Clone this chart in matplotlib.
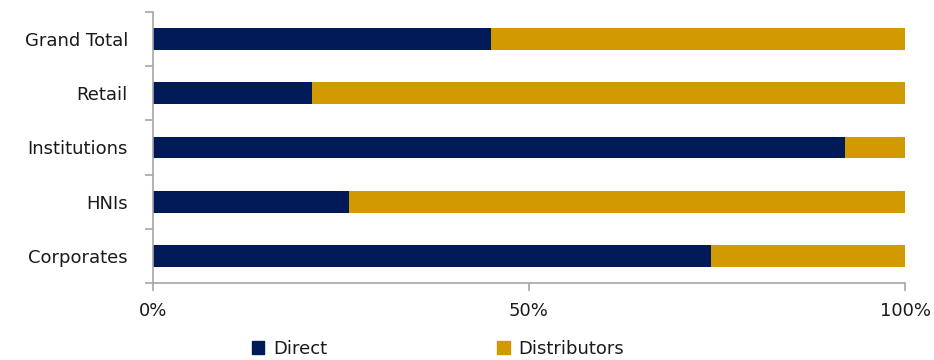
import matplotlib.pyplot as plt
from matplotlib.patches import Patch
import numpy as np

categories = ['Grand Total', 'Retail', 'Institutions', 'HNIs', 'Corporates']
direct = [44.9, 21.1, 92.0, 26.0, 74.2]
distributors = [55.1, 78.9, 8.0, 74.0, 25.8]

navy = '#001A57'
gold = '#D09A00'
grey = '#A6A6A6'

plt.rcParams['font.family'] = ['DejaVu Sans']

fig = plt.figure(figsize=(9.34, 3.6), dpi=100)
ax = fig.add_axes([153 / 934, 1 - 283 / 360, 752 / 934, 271 / 360])

y = np.arange(len(categories))[::-1]
ax.barh(y, direct, height=0.4, color=navy)
ax.barh(y, distributors, left=direct, height=0.4, color=gold)

ax.set_xlim(0, 100)
ax.set_ylim(-0.5, len(categories) - 0.5)
ax.set_xticks([0, 50, 100])
ax.set_xticklabels(['0%', '50%', '100%'], fontsize=13, color='#1a1a1a')
ax.set_yticks(y)
ax.set_yticklabels(categories, fontsize=13, color='#1a1a1a')
ax.set_yticks(np.arange(-0.5, len(categories)), minor=True)

ax.tick_params(axis='y', which='major', length=0, pad=18)
ax.tick_params(axis='y', which='minor', length=6, color=grey, width=1.2)
ax.tick_params(axis='x', length=6, color=grey, width=1.2, pad=8)

for side in ['top', 'right']:
    ax.spines[side].set_visible(False)
for side in ['left', 'bottom']:
    ax.spines[side].set_color(grey)
    ax.spines[side].set_linewidth(1.2)

handles = [Patch(color=navy, label='Direct'), Patch(color=gold, label='Distributors')]
fig.legend(handles=handles, loc='center', bbox_to_anchor=(438 / 934, 1 - 349 / 360),
           ncol=2, frameon=False, fontsize=13, handlelength=0.7, handleheight=0.7,
           handletextpad=0.5, columnspacing=9.4, labelcolor='#1a1a1a')

fig.savefig('out.png', dpi=100)
